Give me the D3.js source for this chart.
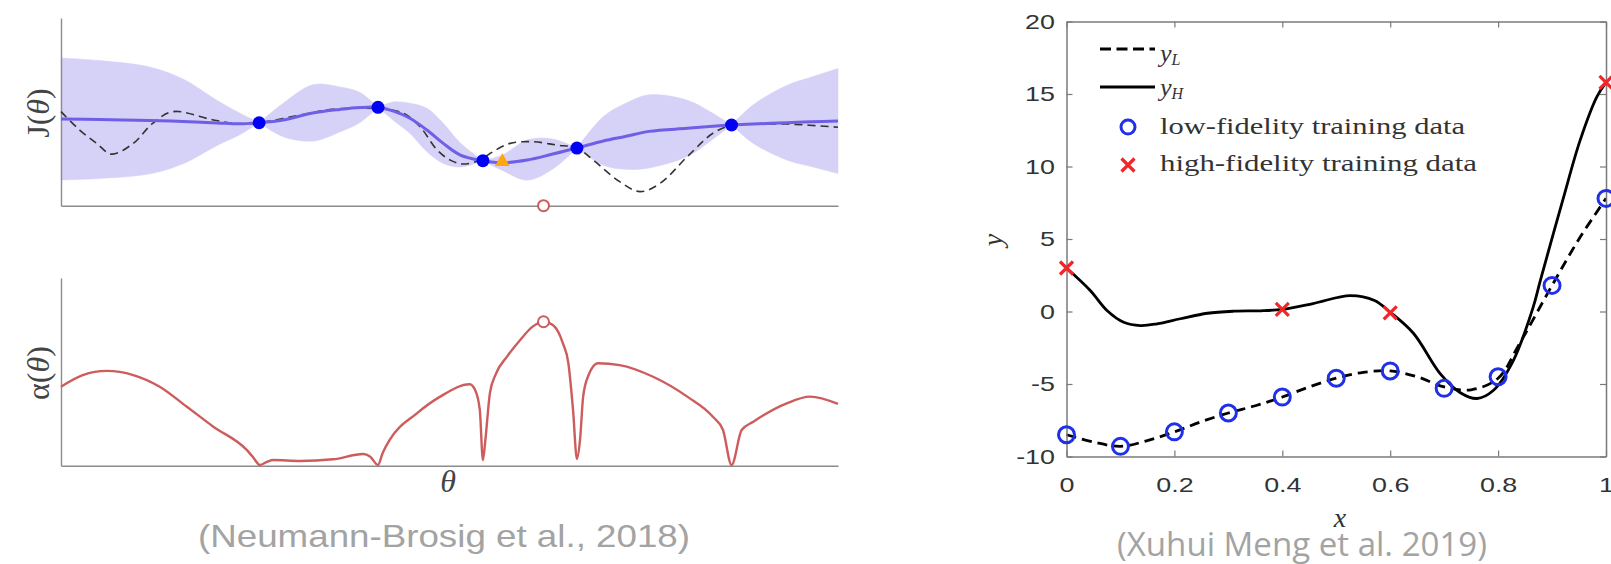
<!DOCTYPE html>
<html>
<head>
<meta charset="utf-8">
<script src="https://cdn.jsdelivr.net/npm/d3@7"></script>
<style>
  html, body { margin: 0; padding: 0; background: #fff; }
  svg { display: block; }
</style>
</head>
<body>
<svg id="chart" width="1611" height="564"></svg>
<script>
// left figure, J and alpha on an arbitrary 0..10 scale, theta on 0..1
const gpTheta = [0, 0.05, 0.115, 0.157, 0.201, 0.230, 0.255, 0.286, 0.324, 0.359, 0.385, 0.408, 0.427, 0.449, 0.471, 0.492, 0.514, 0.543, 0.569, 0.600, 0.633, 0.664, 0.698, 0.726, 0.757, 0.806, 0.835, 0.863, 0.891, 0.934, 0.967, 1.0];
const gpMean  = [4.62, 4.59, 4.54, 4.49, 4.41, 4.36, 4.42, 4.57, 4.94, 5.13, 5.23, 5.24, 5.05, 4.66, 4.03, 3.32, 2.70, 2.40, 2.29, 2.43, 2.75, 3.07, 3.45, 3.69, 3.96, 4.12, 4.22, 4.30, 4.35, 4.42, 4.47, 4.51];
const gpSd    = [3.25, 3.14, 2.84, 2.26, 1.20, 0.58, 0, 0.89, 1.50, 1.20, 0.80, 0, 0.48, 0.80, 1.16, 1.07, 0.64, 0, 0.43, 1.07, 0.80, 0, 1.30, 1.75, 1.95, 1.50, 0.80, 0, 1.03, 1.99, 2.40, 2.80];

const trueTheta = [0, 0.024, 0.046, 0.065, 0.093, 0.118, 0.144, 0.196, 0.230, 0.255, 0.308, 0.350, 0.407, 0.440, 0.462, 0.484, 0.501, 0.517, 0.539, 0.556, 0.578, 0.607, 0.638, 0.664, 0.685, 0.719, 0.745, 0.771, 0.806, 0.839, 0.864, 0.891, 0.934, 1.0];
const trueJ     = [5.01, 4.03, 3.32, 2.75, 3.32, 4.39, 5.01, 4.57, 4.35, 4.42, 4.83, 5.14, 5.17, 4.94, 4.21, 2.97, 2.43, 2.22, 2.43, 2.88, 3.32, 3.41, 3.23, 3.07, 2.43, 1.28, 0.75, 1.19, 2.61, 3.86, 4.30, 4.35, 4.35, 4.18];

const obsTheta = [0.255, 0.408, 0.543, 0.664, 0.863];
const obsJ     = [4.42, 5.24, 2.40, 3.07, 4.30];
const bestTheta = 0.568, bestJ = 2.34;
const nextTheta = 0.621;

const acqTheta = [0, 0.028, 0.059, 0.093, 0.127, 0.162, 0.196, 0.239, 0.247, 0.256, 0.265, 0.273, 0.308, 0.350, 0.389, 0.398, 0.408, 0.414, 0.423, 0.458, 0.488, 0.526, 0.533, 0.539, 0.543, 0.546, 0.552, 0.559, 0.574, 0.591, 0.607, 0.621, 0.633, 0.646, 0.653, 0.659, 0.664, 0.668, 0.672, 0.679, 0.691, 0.719, 0.762, 0.806, 0.839, 0.852, 0.863, 0.876, 0.891, 0.934, 0.964, 1.0];
const acqValue = [4.21, 4.83, 5.05, 4.83, 4.21, 3.14, 2.08, 0.84, 0.46, 0.04, 0.20, 0.30, 0.25, 0.34, 0.62, 0.48, 0.04, 0.68, 1.37, 2.79, 3.68, 4.34, 4.03, 2.97, 0.30, 1.30, 3.87, 4.83, 5.81, 6.70, 7.41, 7.67, 7.50, 6.52, 5.46, 2.97, 0.36, 1.37, 3.68, 4.83, 5.46, 5.36, 4.74, 3.68, 2.61, 1.90, 0.04, 1.90, 2.34, 3.32, 3.68, 3.29];

// right figure
const xTicks = [0, 0.2, 0.4, 0.6, 0.8, 1];
const xTickLabels = ["0", "0.2", "0.4", "0.6", "0.8", "1"];
const yTicks = [-10, -5, 0, 5, 10, 15, 20];
const yTickLabels = ["-10", "-5", "0", "5", "10", "15", "20"];

const lowX = [0, 0.1, 0.2, 0.3, 0.4, 0.5, 0.6, 0.7, 0.8, 0.9, 1.0];
const lowY = [-8.5, -9.3, -8.3, -7.0, -5.9, -4.6, -4.1, -5.3, -4.5, 1.8, 7.8];
const highX = [0, 0.4, 0.6, 1.0];
const highY = [3.0, 0.15, -0.1, 15.8];

const yLx = [0, 0.05, 0.1, 0.15, 0.2, 0.25, 0.3, 0.35, 0.4, 0.45, 0.5, 0.55, 0.6, 0.65, 0.7, 0.75, 0.8, 0.84, 0.9, 0.95, 1.0];
const yLy = [-8.5, -9.0, -9.3, -8.9, -8.3, -7.6, -7.0, -6.5, -5.9, -5.2, -4.6, -4.2, -4.1, -4.5, -5.2, -5.4, -4.6, -2.2, 1.8, 5.0, 7.8];
const yHx = [0, 0.044, 0.075, 0.106, 0.137, 0.168, 0.211, 0.261, 0.31, 0.36, 0.4, 0.457, 0.526, 0.571, 0.6, 0.643, 0.693, 0.73, 0.761, 0.791, 0.828, 0.865, 0.878, 0.92, 0.952, 0.983, 1.0];
const yHy = [3.0, 1.45, 0.07, -0.74, -0.97, -0.85, -0.5, -0.12, 0.02, 0.05, 0.15, 0.55, 1.1, 0.76, -0.05, -1.5, -4.3, -5.6, -6.0, -5.45, -3.4, 0.3, 2.1, 7.7, 11.8, 14.8, 15.8];

const legendLabels = ["low-fidelity training data", "high-fidelity training data"];

const svg = d3.select("#chart");

// ---------- left: top panel
const xL = d3.scaleLinear().domain([0, 1]).range([61, 838]);
const yTop = d3.scaleLinear().domain([0, 10]).range([205.7, 18]);
const yBot = d3.scaleLinear().domain([0, 10]).range([465.7, 278]);

// band is drawn piece by piece between the pinch points so they stay sharp
const band = d3.area()
  .x(i => xL(gpTheta[i]))
  .y0(i => yTop(gpMean[i] - gpSd[i]))
  .y1(i => yTop(gpMean[i] + gpSd[i]))
  .curve(d3.curveCatmullRom);

const cuts = [0];
gpSd.forEach((s, i) => { if (s === 0) cuts.push(i); });
cuts.push(gpSd.length - 1);
for (let k = 0; k < cuts.length - 1; k++) {
  const idx = d3.range(cuts[k], cuts[k + 1] + 1);
  svg.append("path").datum(idx)
    .attr("d", band)
    .attr("fill", "#d6d1f6")
    .attr("stroke", "#d6d1f6")
    .attr("stroke-width", 0.5);
}

function plainAxis(g) {
  g.select(".domain").attr("stroke", "#8c8c8c").attr("stroke-width", 1.4);
}

svg.append("g").attr("transform", `translate(0,${yTop(0)})`)
  .call(d3.axisBottom(xL).ticks(0).tickSizeOuter(0)).call(plainAxis);
svg.append("g").attr("transform", `translate(${xL(0)},0)`)
  .call(d3.axisLeft(yTop).ticks(0).tickSizeOuter(0)).call(plainAxis);

const trueLine = d3.line()
  .x((d, i) => xL(trueTheta[i]))
  .y(d => yTop(d))
  .curve(d3.curveCatmullRom);
svg.append("path").datum(trueJ)
  .attr("d", trueLine)
  .attr("fill", "none")
  .attr("stroke", "#333")
  .attr("stroke-width", 1.6)
  .attr("stroke-dasharray", "8,5");

const meanLine = d3.line()
  .x((d, i) => xL(gpTheta[i]))
  .y(d => yTop(d))
  .curve(d3.curveCatmullRom);
svg.append("path").datum(gpMean)
  .attr("d", meanLine)
  .attr("fill", "none")
  .attr("stroke", "#6f5fe6")
  .attr("stroke-width", 3);

svg.selectAll(".obs")
  .data(obsTheta)
  .enter()
  .append("circle")
  .attr("class", "obs")
  .attr("cx", d => xL(d))
  .attr("cy", (d, i) => yTop(obsJ[i]))
  .attr("r", 6.5)
  .attr("fill", "#0000f5");

svg.append("path")
  .attr("d", d3.symbol(d3.symbolTriangle, 95)())
  .attr("transform", `translate(${xL(bestTheta)},${yTop(bestJ)})`)
  .attr("fill", "#ffa510");

svg.append("circle")
  .attr("cx", xL(nextTheta))
  .attr("cy", yTop(0))
  .attr("r", 5.5)
  .attr("fill", "#fff")
  .attr("stroke", "#cd5c5c")
  .attr("stroke-width", 2);

// ---------- left: bottom panel
svg.append("g").attr("transform", `translate(0,${yBot(0)})`)
  .call(d3.axisBottom(xL).ticks(0).tickSizeOuter(0)).call(plainAxis);
svg.append("g").attr("transform", `translate(${xL(0)},0)`)
  .call(d3.axisLeft(yBot).ticks(0).tickSizeOuter(0)).call(plainAxis);

const acqLine = d3.line()
  .x((d, i) => xL(acqTheta[i]))
  .y(d => yBot(d))
  .curve(d3.curveMonotoneX);
svg.append("path").datum(acqValue)
  .attr("d", acqLine)
  .attr("fill", "none")
  .attr("stroke", "#cd5c5c")
  .attr("stroke-width", 2.4);

svg.append("circle")
  .attr("cx", xL(nextTheta))
  .attr("cy", yBot(d3.max(acqValue)))
  .attr("r", 5.5)
  .attr("fill", "#fff")
  .attr("stroke", "#cd5c5c")
  .attr("stroke-width", 2);

// labels
const serif = "'Liberation Serif', 'DejaVu Serif', serif";
function thetaLabel(x, y, prefix, rotate) {
  const t = svg.append("text")
    .attr("transform", `translate(${x},${y})` + (rotate ? " rotate(-90)" : ""))
    .attr("text-anchor", "middle")
    .attr("font-family", serif)
    .attr("font-size", 32)
    .attr("fill", "#444");
  if (prefix) {
    t.append("tspan").text(prefix + "(");
    t.append("tspan").attr("font-style", "italic").text("θ");
    t.append("tspan").text(")");
  } else {
    t.append("tspan").attr("font-style", "italic").text("θ");
  }
}
thetaLabel(49, 113, "J", true);
thetaLabel(49, 373, "α", true);
thetaLabel(448, 492, null, false);

svg.append("text")
  .attr("x", 198).attr("y", 547)
  .attr("font-family", "'Liberation Sans', Arial, sans-serif")
  .attr("font-size", 32)
  .attr("fill", "#a3a3a3")
  .attr("textLength", 492)
  .attr("lengthAdjust", "spacingAndGlyphs")
  .text("(Neumann-Brosig et al., 2018)");

// ---------- right figure
const xR = d3.scaleLinear().domain([0, 1]).range([1066.5, 1606]);
const yR = d3.scaleLinear().domain([-10, 20]).range([456.5, 21.5]);

const lowLine = d3.line()
  .x((d, i) => xR(yLx[i]))
  .y(d => yR(d))
  .curve(d3.curveCatmullRom);
svg.append("path").datum(yLy)
  .attr("d", lowLine)
  .attr("fill", "none")
  .attr("stroke", "#000")
  .attr("stroke-width", 2.8)
  .attr("stroke-dasharray", "10,6");

const highLine = d3.line()
  .x((d, i) => xR(yHx[i]))
  .y(d => yR(d))
  .curve(d3.curveCatmullRom);
svg.append("path").datum(yHy)
  .attr("d", highLine)
  .attr("fill", "none")
  .attr("stroke", "#000")
  .attr("stroke-width", 2.8);

function boxAxis(g) {
  g.select(".domain").attr("stroke", "#7a7a7a").attr("stroke-width", 1.5);
  g.selectAll(".tick line").attr("stroke", "#7a7a7a").attr("stroke-width", 1.2);
  g.selectAll(".tick text")
    .attr("font-family", "'Liberation Sans', Arial, sans-serif")
    .attr("font-size", 21)
    .attr("fill", "#333")
    .attr("transform", "scale(1.28,1)");
}

svg.append("g").attr("transform", `translate(0,${yR(-10)})`)
  .call(d3.axisBottom(xR).tickValues(xTicks).tickSize(-6).tickSizeOuter(0).tickPadding(21)
    .tickFormat((d, i) => xTickLabels[i]))
  .call(boxAxis);
svg.append("g").attr("transform", `translate(0,${yR(20)})`)
  .call(d3.axisTop(xR).tickValues(xTicks).tickSize(-6).tickSizeOuter(0).tickFormat(""))
  .call(boxAxis);
svg.append("g").attr("transform", `translate(${xR(0)},0)`)
  .call(d3.axisLeft(yR).tickValues(yTicks).tickSize(-6).tickSizeOuter(0).tickPadding(9)
    .tickFormat((d, i) => yTickLabels[i]))
  .call(boxAxis);
svg.append("g").attr("transform", `translate(${xR(1)},0)`)
  .call(d3.axisRight(yR).tickValues(yTicks).tickSize(-6).tickSizeOuter(0).tickFormat(""))
  .call(boxAxis);

const blue = "#1f30e8", red = "#f2262a";

svg.selectAll(".low")
  .data(lowX)
  .enter()
  .append("circle")
  .attr("class", "low")
  .attr("cx", d => xR(d))
  .attr("cy", (d, i) => yR(lowY[i]))
  .attr("r", 8)
  .attr("fill", "none")
  .attr("stroke", blue)
  .attr("stroke-width", 3);

const crossPath = "M-6.5,-6.5L6.5,6.5M-6.5,6.5L6.5,-6.5";
svg.selectAll(".high")
  .data(highX)
  .enter()
  .append("path")
  .attr("class", "high")
  .attr("d", crossPath)
  .attr("transform", (d, i) => `translate(${xR(d)},${yR(highY[i])})`)
  .attr("fill", "none")
  .attr("stroke", red)
  .attr("stroke-width", 3.2);

// legend
const legendX = 1100, legendTextX = 1160;
svg.append("line")
  .attr("x1", legendX).attr("x2", 1155).attr("y1", 49).attr("y2", 49)
  .attr("stroke", "#000").attr("stroke-width", 2.8).attr("stroke-dasharray", "11,5.5");
svg.append("line")
  .attr("x1", legendX).attr("x2", 1155).attr("y1", 87).attr("y2", 87)
  .attr("stroke", "#000").attr("stroke-width", 2.8);

function subLabel(y, sub) {
  const t = svg.append("text")
    .attr("x", legendTextX).attr("y", y)
    .attr("font-family", serif)
    .attr("font-style", "italic")
    .attr("font-size", 26)
    .attr("fill", "#333");
  t.append("tspan").text("y");
  t.append("tspan").attr("font-size", 16).attr("dy", 3).text(sub);
}
subLabel(62, "L");
subLabel(96, "H");

svg.append("circle")
  .attr("cx", 1128).attr("cy", 127).attr("r", 7)
  .attr("fill", "none").attr("stroke", blue).attr("stroke-width", 3);
svg.append("path")
  .attr("d", crossPath)
  .attr("transform", "translate(1128,165)")
  .attr("fill", "none").attr("stroke", red).attr("stroke-width", 3.2);

svg.selectAll(".legtext")
  .data(legendLabels)
  .enter()
  .append("text")
  .attr("class", "legtext")
  .attr("x", legendTextX)
  .attr("y", (d, i) => 134 + i * 37)
  .attr("font-family", serif)
  .attr("font-size", 23)
  .attr("fill", "#333")
  .attr("textLength", (d, i) => i === 0 ? 305 : 317)
  .attr("lengthAdjust", "spacingAndGlyphs")
  .text(d => d);

svg.append("text")
  .attr("transform", "translate(1002,240) rotate(-90)")
  .attr("text-anchor", "middle")
  .attr("font-family", serif)
  .attr("font-style", "italic")
  .attr("font-size", 28)
  .attr("fill", "#333")
  .text("y");

svg.append("text")
  .attr("x", 1340).attr("y", 527)
  .attr("text-anchor", "middle")
  .attr("font-family", serif)
  .attr("font-style", "italic")
  .attr("font-size", 28)
  .attr("fill", "#333")
  .text("x");

svg.append("text")
  .attr("x", 1117).attr("y", 556)
  .attr("font-family", "'Open Sans', 'Noto Sans', sans-serif")
  .attr("font-size", 32)
  .attr("fill", "#a3a3a3")
  .attr("textLength", 370)
  .attr("lengthAdjust", "spacingAndGlyphs")
  .text("(Xuhui Meng et al. 2019)");
</script>
</body>
</html>
